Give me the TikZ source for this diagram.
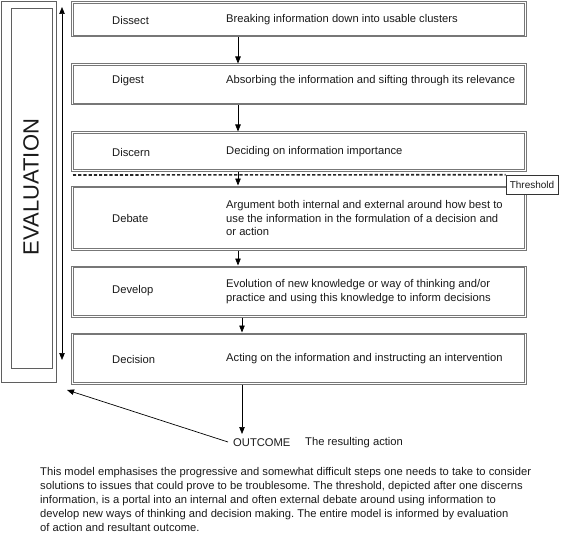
\documentclass[tikz,border=0pt]{standalone}
\usepackage{fontspec}
\setmainfont{Liberation Sans}
\usetikzlibrary{arrows.meta}
\definecolor{boxgray}{HTML}{777777}
\definecolor{txt}{HTML}{1A1A1A}
\newcommand{\stepnode}[4]{%
  \node[stepbox, minimum height=#4] (#1) at (#2,#3) {};
  \node[stepinner, minimum height=#4-3.4pt] (#1-in) at (#1.center) {};
}
\frenchspacing
\begin{document}
\begin{tikzpicture}[x=1pt,y=-1pt,
  stepbox/.style={draw=boxgray, line width=1pt, minimum width=455pt, inner sep=0pt, fill=white},
  stepinner/.style={draw=boxgray, line width=0.7pt, minimum width=451.6pt, inner sep=0pt},
  evalbox/.style={draw=boxgray!80!black, line width=0.7pt, inner sep=0pt},
  lbl/.style={anchor=west, inner sep=0pt, text=txt, font=\fontsize{11.2}{13.6}\selectfont},
  desc/.style={anchor=west, inner sep=0pt, text=txt, align=left, font=\fontsize{11.2}{13.6}\selectfont},
  arr/.style={-{Triangle[length=7pt,width=5.5pt]}, line width=0.7pt, black},
  thresh/.style={line width=1.6pt, dash pattern=on 3.2pt off 2pt, black!85}
]
\useasboundingbox (0,0) rectangle (563,535);

% evaluation boxes
\node[evalbox, minimum width=55pt, minimum height=381pt] (evalout) at (28.5,191.5) {};
\node[evalbox, minimum width=41pt, minimum height=360pt] (evalin) at (31.5,188) {};
\node[rotate=90, text=txt, inner sep=0pt, font=\fontsize{22}{24}\selectfont] (evaltxt) at (31,187) {EVALUATION};

% step boxes
\stepnode{dissect}{299}{19.5}{35pt}
\stepnode{digest}{299}{84.5}{41pt}
\stepnode{discern}{299}{151.5}{39pt}
\stepnode{debate}{299}{218}{64pt}
\stepnode{develop}{299}{291.5}{51pt}
\stepnode{decision}{299}{358.5}{51pt}

% labels
\node[lbl] (l1) at (112,20) {Dissect};
\node[desc] (d1) at (226,20) {Breaking information down into usable clusters};
\node[lbl] (l2) at (112,81) {Digest};
\node[desc] (d2) at (226,81) {Absorbing the information and sifting through its relevance};
\node[lbl] (l3) at (112,152) {Discern};
\node[desc] (d3) at (226,152) {Deciding on information importance};
\node[lbl] (l4) at (112,218) {Debate};
\node[desc] (d4) at (226,218) {Argument both internal and external around how best to\\use the information in the formulation of a decision and\\or action};
\node[lbl] (l5) at (112,291) {Develop};
\node[desc] (d5) at (226,291.5) {Evolution of new knowledge or way of thinking and/or\\practice and using this knowledge to inform decisions};
\node[lbl] (l6) at (112,359) {Decision};
\node[desc] (d6) at (226,359) {Acting on the information and instructing an intervention};

% threshold
\node[draw=black!80, line width=0.6pt, fill=white, minimum width=52pt, minimum height=19pt, inner sep=0pt,
  text=txt, font=\fontsize{10}{12}\selectfont] (threshold) at (532,184.5) {Threshold};
\coordinate (dstart) at (73,175);
\draw[thresh] (dstart) -- (threshold.north west);

% vertical connectors
\coordinate (ax) at (238,0);
\coordinate (bx) at (242,0);
\draw[arr] (dissect.south -| ax) -- (digest.north -| ax);
\draw[arr] (digest.south -| ax) -- (discern.north -| ax);
\draw[arr] (discern.south -| ax) -- (debate.north -| ax);
\draw[arr] (debate.south -| ax) -- (develop.north -| ax);
\draw[arr] (develop.south -| bx) -- (decision.north -| bx);

% outcome
\node[lbl] (outcome) at (233,443) {OUTCOME};
\node[lbl] (result) at (305,443) {The resulting action};
\coordinate (otip) at (242,434);
\draw[arr] (decision.south -| bx) -- (otip);
\coordinate (ostart) at (228,442);
\coordinate (etip) at (67,390);
\draw[arr] (ostart) -- (etip);

% evaluation double arrow
\coordinate (vtop) at (62,7);
\coordinate (vbot) at (62,360);
\draw[{Triangle[length=7pt,width=5.5pt]}-{Triangle[length=7pt,width=5.5pt]}, line width=0.7pt] (vtop) -- (vbot);

% caption
\node[anchor=north west, inner sep=0pt, align=left, text=txt,
  font=\fontsize{11.2}{14}\selectfont] (caption) at (40,467) {This model emphasises the progressive and somewhat difficult steps one needs to take to consider\\solutions to issues that could prove to be troublesome. The threshold, depicted after one discerns\\information, is a portal into an internal and often external debate around using information to\\develop new ways of thinking and decision making. The entire model is informed by evaluation\\of action and resultant outcome.};
\end{tikzpicture}
\end{document}
